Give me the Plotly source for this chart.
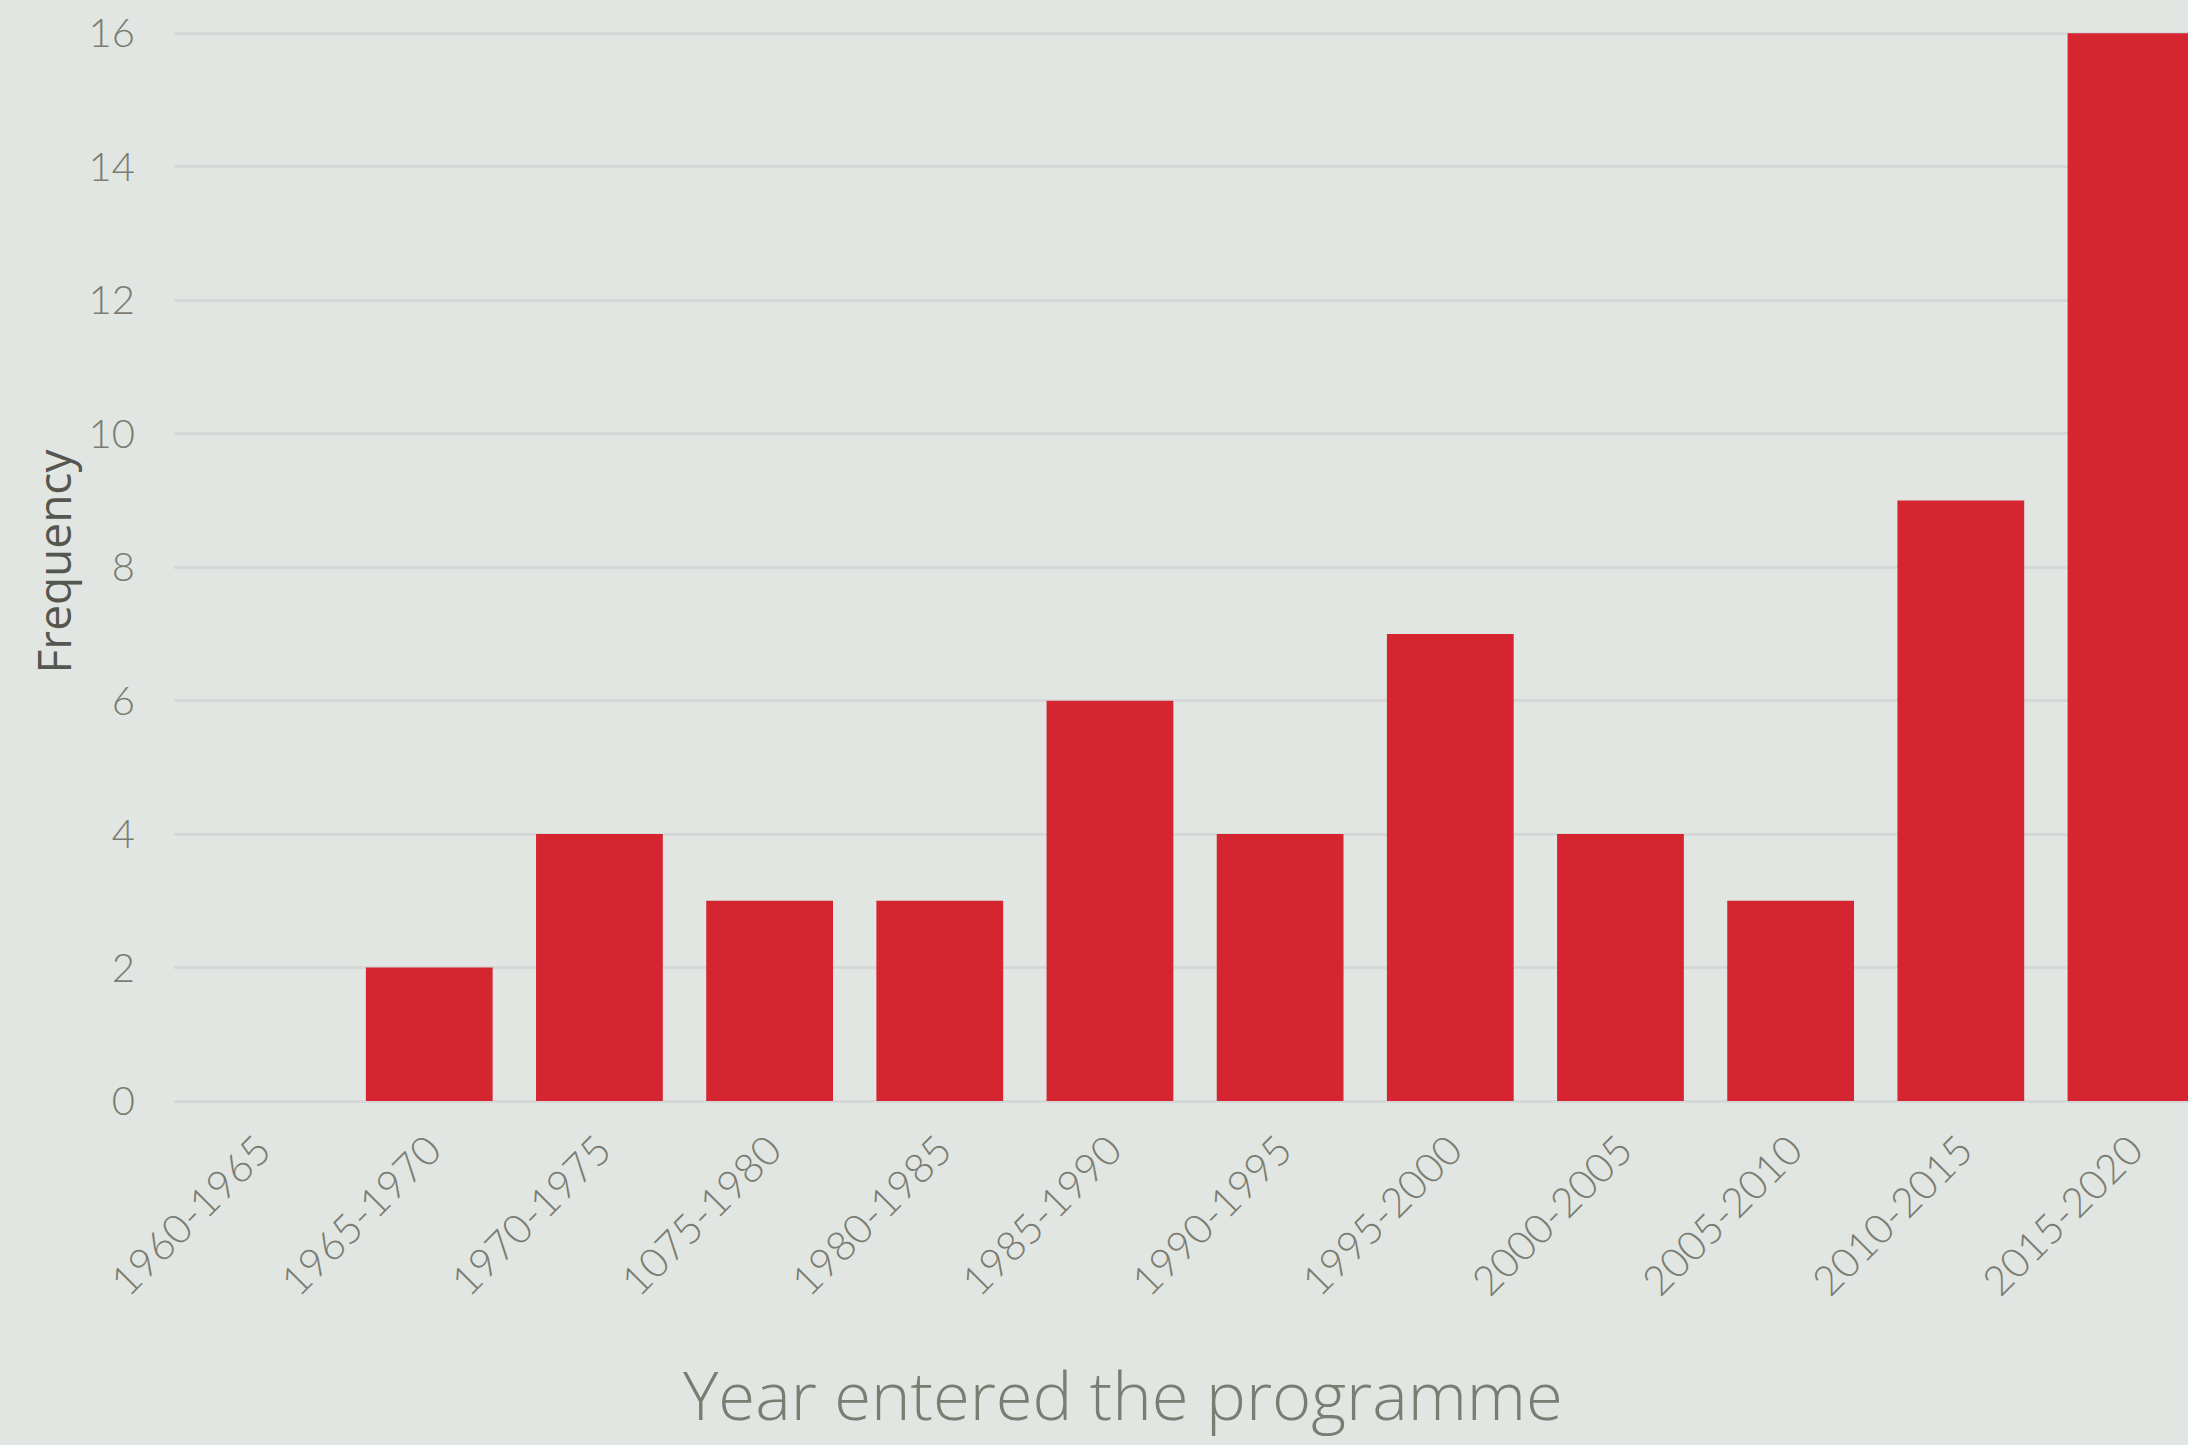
import plotly.graph_objects as go

categories = ["1960-1965", "1965-1970", "1970-1975", "1075-1980", "1980-1985", "1985-1990",
              "1990-1995", "1995-2000", "2000-2005", "2005-2010", "2010-2015", "2015-2020"]
frequency = [0, 2, 4, 3, 3, 6, 4, 7, 4, 3, 9, 16]
y_ticks = [0, 2, 4, 6, 8, 10, 12, 14, 16]

BG = "#e1e6e2"
RED = "#d42531"
GRID = "#d5d8d6"
TXT = "#7b7c72"
FONT = "Lato"
TFONT = "Open Sans"

W, H = 2188, 1445
ml, mr, mt, mb = 174, 0, 20, 342

fig = go.Figure(go.Bar(
    x=list(range(len(categories))), y=frequency,
    marker=dict(color=RED, line=dict(width=0)),
    width=0.745,
))

fig.update_layout(
    width=W, height=H,
    margin=dict(l=ml, r=mr, t=mt, b=mb, autoexpand=False),
    paper_bgcolor=BG, plot_bgcolor=BG,
    font=dict(family=FONT, color=TXT, size=40, weight=300),
    showlegend=False,
    xaxis=dict(
        range=[-0.5, 11.335],
        tickmode="array", tickvals=list(range(len(categories))), ticktext=categories,
        tickangle=-45, showgrid=False, zeroline=False, showline=False,
        ticks="", tickfont=dict(size=41, color=TXT, family=FONT, weight=300),
        ticklabelstandoff=14,
    ),
    yaxis=dict(
        range=[-0.03, 16.2],
        tickmode="array", tickvals=y_ticks,
        showgrid=True, gridcolor=GRID, gridwidth=2.5,
        zeroline=True, zerolinecolor=GRID, zerolinewidth=2.5,
        showline=False, ticks="",
        tickfont=dict(size=40, color=TXT, family=FONT, weight=300),
        ticklabelstandoff=38,
        title=dict(text="Frequency", font=dict(size=46, color="#55564f", family=TFONT, weight=400), standoff=2),
    ),
    annotations=[dict(
        text="Year entered the programme", xref="paper", yref="paper",
        x=(1123 - ml) / (W - ml - mr), y=(mt + (H - mt - mb) - 1394) / (H - mt - mb),
        xanchor="center", yanchor="middle", showarrow=False,
        font=dict(size=67, color=TXT, family=TFONT, weight=300),
    )],
)

fig.write_html("out.html")
